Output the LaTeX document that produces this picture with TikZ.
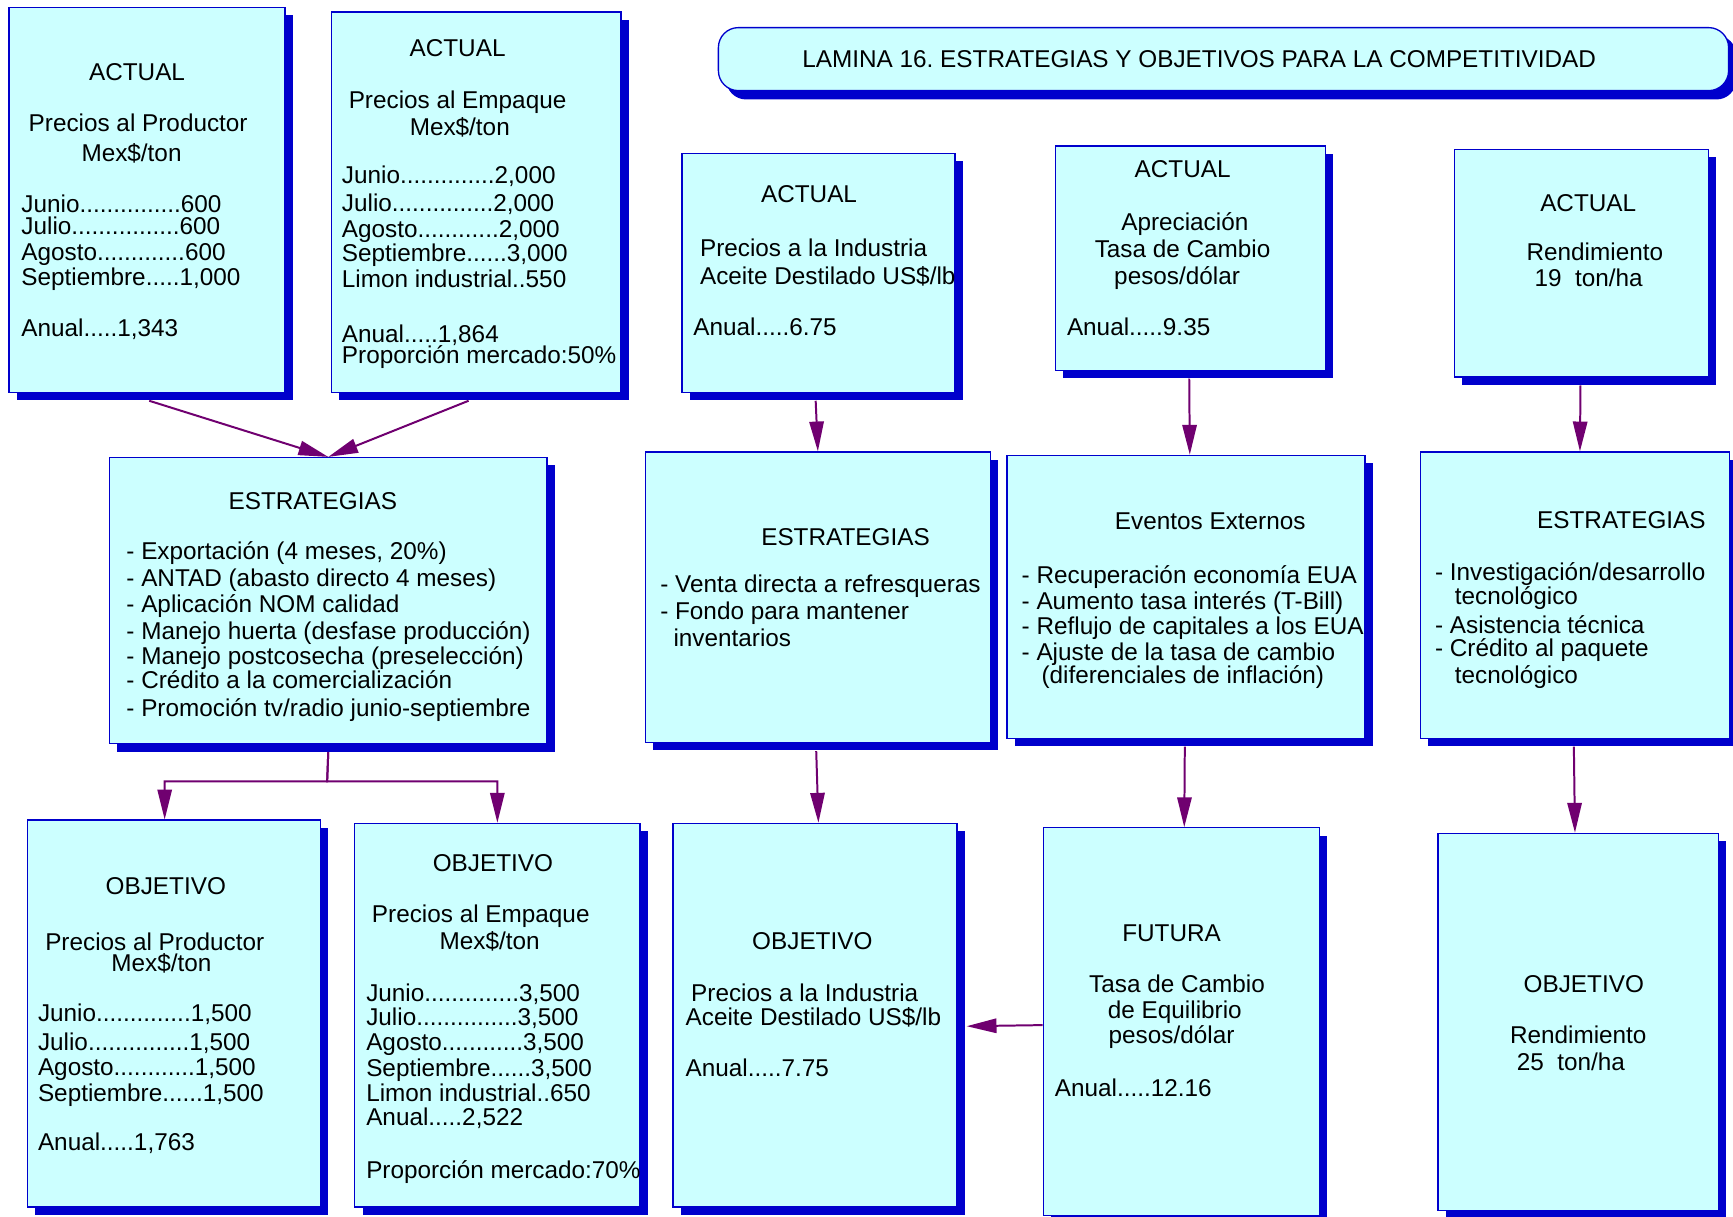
\documentclass[tikz,border=0pt]{standalone}
\usepackage{fontspec}
\setmainfont{Liberation Sans}
\usetikzlibrary{arrows.meta,shadows,fit}
\definecolor{boxfill}{RGB}{204,255,255}
\definecolor{boxblue}{RGB}{0,0,204}
\definecolor{arrc}{RGB}{112,0,112}
\newcommand\fs{\fontsize{11pt}{11.5pt}\selectfont\frenchspacing}
\begin{document}
\begin{tikzpicture}[x=0.5pt,y=-0.5pt,
  box/.style={draw=boxblue, line width=0.6pt, fill=boxfill, inner sep=0pt,
    drop shadow={shadow xshift=3.5pt, shadow yshift=-3.5pt, fill=boxblue, opacity=1}},
  t/.style={inner sep=0pt, font=\fs, anchor=mid west, yshift=-1pt},
  tc/.style={inner sep=0pt, font=\fs, anchor=mid, yshift=-1pt},
  arr/.style={draw=arrc, line width=0.9pt, -{Triangle[length=13.5pt,width=6.5pt]}}]
\useasboundingbox (0,0) rectangle (1568,1101);

% ---------- boxes ----------
\node[box, fit={(8,7)(258,355)}] (a1) {};
\node[box, fit={(300,11)(562,355)}] (a2) {};
\node[box, rounded corners=9pt, fit={(650,25)(1564,82)},
  drop shadow={shadow xshift=3.5pt, shadow yshift=-4pt, fill=boxblue, opacity=1}] (title) {};
\node[box, fit={(617,139)(864,355)}] (a3) {};
\node[box, fit={(955,132)(1199,335)}] (a4) {};
\node[box, fit={(1316,135)(1546,341)}] (a5) {};
\node[box, fit={(99,414)(495,673)}] (e1) {};
\node[box, fit={(584,409)(896,672)}] (e2) {};
\node[box, fit={(911,412)(1235,668)}] (e3) {};
\node[box, fit={(1285,409)(1565,668)}] (e4) {};
\node[box, fit={(25,742)(290,1092)}] (o1) {};
\node[box, fit={(321,745)(579,1092)}] (o2) {};
\node[box, fit={(609,745)(866,1092)}] (o3) {};
\node[box, fit={(944,749)(1194,1100)}] (fu) {};
\node[box, fit={(1301,754)(1555,1095)}] (o4) {};

% ---------- title ----------
\node[tc] (titletext) at (1085,54) {LAMINA 16. ESTRATEGIAS Y OBJETIVOS PARA LA COMPETITIVIDAD};

% ---------- A1 ----------
\node[tc] (a1h) at (124,66) {ACTUAL};
\node[tc] (a1p) at (125,112) {Precios al Productor};
\node[tc] (a1u) at (119,139) {Mex\$/ton};
\node[t] (a1m1) at (19,185) {Junio...............600};
\node[t] (a1m2) at (19,205) {Julio................600};
\node[t] (a1m3) at (19,228) {Agosto.............600};
\node[t] (a1m4) at (19,251) {Septiembre.....1,000};
\node[t] (a1y) at (19,297) {Anual.....1,343};

% ---------- A2 ----------
\node[tc] (a2h) at (414,44) {ACTUAL};
\node[tc] (a2p) at (414,91) {Precios al Empaque};
\node[tc] (a2u) at (416,115) {Mex\$/ton};
\node[t] (a2m1) at (309,159) {Junio..............2,000};
\node[t] (a2m2) at (309,184) {Julio...............2,000};
\node[t] (a2m3) at (309,208) {Agosto............2,000};
\node[t] (a2m4) at (309,229) {Septiembre......3,000};
\node[t] (a2m5) at (309,253) {Limon industrial..550};
\node[t] (a2y) at (309,303) {Anual.....1,864};
\node[t] (a2q) at (309,322) {Proporción mercado:50\%};

% ---------- A3 ----------
\node[tc] (a3h) at (732,176) {ACTUAL};
\node[t] (a3p) at (633,225) {Precios a la Industria};
\node[t] (a3q) at (633,250) {Aceite Destilado US\$/lb};
\node[t] (a3y) at (627,296) {Anual.....6.75};

% ---------- A4 ----------
\node[tc] (a4h) at (1070,153) {ACTUAL};
\node[tc] (a4p) at (1072,201) {Apreciación};
\node[tc] (a4q) at (1070,226) {Tasa de Cambio};
\node[tc] (a4r) at (1065,250) {pesos/dólar};
\node[t] (a4y) at (965,296) {Anual.....9.35};

% ---------- A5 ----------
\node[tc] (a5h) at (1437,184) {ACTUAL};
\node[tc] (a5p) at (1443,228) {Rendimiento};
\node[t] (a5q) at (1388,252) {19\ \ ton/ha};

% ---------- E1 ----------
\node[tc] (e1h) at (283,454) {ESTRATEGIAS};
\node[t] (e1l1) at (114,499) {- Exportación (4 meses, 20\%)};
\node[t] (e1l2) at (114,523) {- ANTAD (abasto directo 4 meses)};
\node[t] (e1l3) at (114,547) {- Aplicación NOM calidad};
\node[t] (e1l4) at (114,571) {- Manejo huerta (desfase producción)};
\node[t] (e1l5) at (114,594) {- Manejo postcosecha (preselección)};
\node[t] (e1l6) at (114,616) {- Crédito a la comercialización};
\node[t] (e1l7) at (114,641) {- Promoción tv/radio junio-septiembre};

% ---------- E2 ----------
\node[tc] (e2h) at (765,486) {ESTRATEGIAS};
\node[t] (e2l1) at (597,529) {- Venta directa a refresqueras};
\node[t] (e2l2) at (597,553) {- Fondo para mantener};
\node[t] (e2l3) at (609,578) {inventarios};

% ---------- E3 ----------
\node[tc] (e3h) at (1095,472) {Eventos Externos};
\node[t] (e3l1) at (924,521) {- Recuperación economía EUA};
\node[t] (e3l2) at (924,544) {- Aumento tasa interés (T-Bill)};
\node[t] (e3l3) at (924,567) {- Reflujo de capitales a los EUA};
\node[t] (e3l4) at (924,590) {- Ajuste de la tasa de cambio};
\node[t] (e3l5) at (942,611) {(diferenciales de inflación)};

% ---------- E4 ----------
\node[tc] (e4h) at (1467,471) {ESTRATEGIAS};
\node[t] (e4l1) at (1298,518) {- Investigación/desarrollo};
\node[t] (e4l2) at (1316,540) {tecnológico};
\node[t] (e4l3) at (1298,566) {- Asistencia técnica};
\node[t] (e4l4) at (1298,587) {- Crédito al paquete};
\node[t] (e4l5) at (1316,611) {tecnológico};

% ---------- O1 ----------
\node[tc] (o1h) at (150,802) {OBJETIVO};
\node[tc] (o1p) at (140,853) {Precios al Productor};
\node[tc] (o1u) at (146,872) {Mex\$/ton};
\node[t] (o1m1) at (34,917) {Junio..............1,500};
\node[t] (o1m2) at (34,943) {Julio...............1,500};
\node[t] (o1m3) at (34,966) {Agosto............1,500};
\node[t] (o1m4) at (34,989) {Septiembre......1,500};
\node[t] (o1y) at (34,1034) {Anual.....1,763};

% ---------- O2 ----------
\node[tc] (o2h) at (446,781) {OBJETIVO};
\node[tc] (o2p) at (435,827) {Precios al Empaque};
\node[tc] (o2u) at (443,852) {Mex\$/ton};
\node[t] (o2m1) at (331,899) {Junio..............3,500};
\node[t] (o2m2) at (331,921) {Julio...............3,500};
\node[t] (o2m3) at (331,943) {Agosto............3,500};
\node[t] (o2m4) at (331,967) {Septiembre......3,500};
\node[t] (o2m5) at (331,989) {Limon industrial..650};
\node[t] (o2y) at (331,1011) {Anual.....2,522};
\node[t] (o2q) at (331,1059) {Proporción mercado:70\%};

% ---------- O3 ----------
\node[tc] (o3h) at (735,852) {OBJETIVO};
\node[t] (o3p) at (625,899) {Precios a la Industria};
\node[t] (o3q) at (620,921) {Aceite Destilado US\$/lb};
\node[t] (o3y) at (620,967) {Anual.....7.75};

% ---------- FUTURA ----------
\node[tc] (fuh) at (1060,845) {FUTURA};
\node[tc] (fup) at (1065,891) {Tasa de Cambio};
\node[tc] (fuq) at (1063,914) {de Equilibrio};
\node[tc] (fur) at (1060,937) {pesos/dólar};
\node[t] (fuy) at (954,985) {Anual.....12.16};

% ---------- O4 ----------
\node[tc] (o4h) at (1433,891) {OBJETIVO};
\node[tc] (o4p) at (1428,937) {Rendimiento};
\node[t] (o4q) at (1372,961) {25\ \ ton/ha};

% ---------- connectors ----------
\draw[arr] ([xshift=1pt,yshift=-3.5pt]a1.south) -- (e1.north);
\draw[arr] ([xshift=-3.5pt,yshift=-3.5pt]a2.south) -- (e1.north);
\draw[arr] ([xshift=-1.25pt,yshift=-3.5pt]a3.south) -- ([xshift=0pt]e2.north);
\draw[arr] ([xshift=-0.5pt,yshift=-3.5pt]a4.south) -- ([xshift=1.75pt]e3.north);
\draw[arr] ([xshift=-0.5pt,yshift=-3.5pt]a5.south) -- ([xshift=2.25pt]e4.north);
\coordinate (split) at (296,707);
\draw[arr] ([yshift=-3.5pt]e1.south) -- (split) -| ([xshift=-4.25pt]o1.north);
\draw[arr] ([yshift=-3.5pt]e1.south) -- (split) -| (o2.north);
\draw[arr] ([xshift=-0.75pt,yshift=-3.5pt]e2.south) -- ([xshift=1.5pt]o3.north);
\draw[arr] ([xshift=-0.5pt,yshift=-3.5pt]e3.south) -- ([xshift=1.25pt]fu.north);
\draw[arr] ([xshift=-0.5pt,yshift=-3.5pt]e4.south) -- ([xshift=-1.5pt]o4.north);
\draw[arr] ([yshift=-1.5pt]fu.west) -- ([xshift=4pt,yshift=-5pt]o3.east);
\end{tikzpicture}
\end{document}
